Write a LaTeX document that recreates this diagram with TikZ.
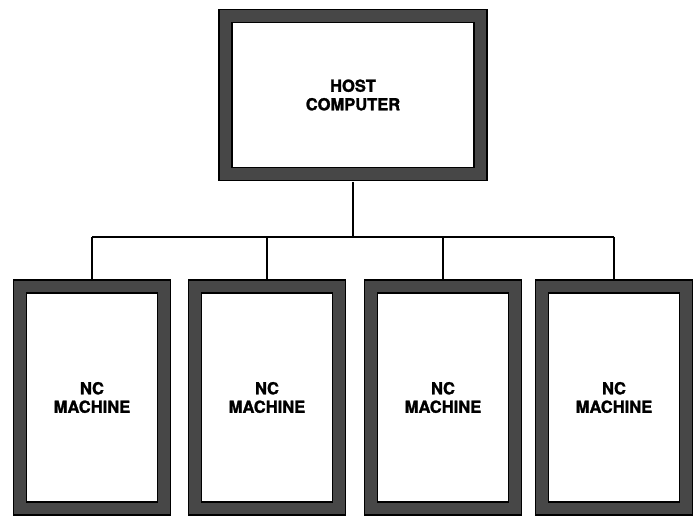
\documentclass[tikz,border=0pt]{standalone}
\usepackage{fontspec}
\setmainfont{TeX Gyre Heros}[BoldFeatures={FakeBold=1.6}]
\usepackage{tikz}

\tikzset{
  unit/.style={draw=black, line width=1.7pt, double=black!72, double distance=11.5pt,
    fill=white, inner sep=0pt, align=center,
    font=\fontsize{16.5}{18.5}\selectfont\bfseries},
  link/.style={line width=2.6pt}
}

\begin{document}
\begin{tikzpicture}[x=1pt, y=-1pt]
\useasboundingbox (0,0) rectangle (697,516);
% host
\node[unit, minimum width=255pt, minimum height=158pt] (host) at (353,95) {HOST\\COMPUTER};
% machines
\foreach \i/\cx in {1/92, 2/267, 3/443, 4/614}
  \node[unit, minimum width=144pt, minimum height=222pt] (nc\i) at (\cx,397.5) {NC\\MACHINE};
% bus
\coordinate (bus) at (353,237);
\draw[link] (host.south) ++(0,7) -- (bus);
\draw[link] (nc1.north |- bus) -- (nc4.north |- bus);
\foreach \i in {1,...,4}
  \draw[link] (nc\i.north |- bus) -- ([yshift=7pt]nc\i.north);
\end{tikzpicture}
\end{document}
